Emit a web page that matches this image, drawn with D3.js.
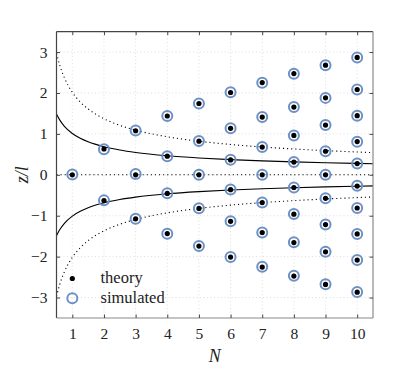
<!DOCTYPE html>
<html><head><meta charset="utf-8">
<script src="https://cdn.jsdelivr.net/npm/d3@7"></script>
<style>body{margin:0;background:#fff}svg{display:block}
svg text{font-family:"Liberation Serif","Times New Roman",serif !important}</style>
</head><body>
<div id="chart"></div>
<script>
// ion chain equilibrium positions (N ions)
const nValues = [1,2,3,4,5,6,7,8,9,10];
const theory = [
  [0],
  [-0.630, 0.630],
  [-1.077, 0, 1.077],
  [-1.437, -0.454, 0.454, 1.437],
  [-1.743, -0.822, 0, 0.822, 1.743],
  [-2.012, -1.136, -0.363, 0.363, 1.136, 2.012],
  [-2.255, -1.410, -0.678, 0, 0.678, 1.410, 2.255],
  [-2.475, -1.656, -0.962, -0.310, 0.310, 0.962, 1.656, 2.475],
  [-2.680, -1.882, -1.216, -0.576, 0, 0.576, 1.216, 1.882, 2.680],
  [-2.869, -2.085, -1.446, -0.811, -0.275, 0.275, 0.811, 1.446, 2.085, 2.869]
];
const simulated = [
  [0.005],
  [-0.625, 0.625],
  [-1.075, 0.02, 1.08],
  [-1.44, -0.45, 0.455, 1.435],
  [-1.74, -0.82, 0, 0.825, 1.745],
  [-2.01, -1.135, -0.36, 0.365, 1.14, 2.015],
  [-2.25, -1.41, -0.675, 0, 0.68, 1.41, 2.25],
  [-2.47, -1.65, -0.96, -0.31, 0.31, 0.96, 1.655, 2.47],
  [-2.675, -1.88, -1.215, -0.575, 0, 0.575, 1.215, 1.88, 2.68],
  [-2.865, -2.085, -1.445, -0.81, -0.27, 0.275, 0.81, 1.445, 2.085, 2.865]
];
// curve samples
const curveN      = [0.5, 0.6, 0.75, 1, 1.25, 1.5, 2, 2.5, 3, 4, 5, 6, 7, 8, 9, 10, 10.5];
const dottedCurve = [2.973, 2.685, 2.370, 2.018, 1.781, 1.609, 1.370, 1.209, 1.092, 0.930, 0.821, 0.741, 0.680, 0.631, 0.591, 0.557, 0.542];
const solidCurve  = [1.487, 1.343, 1.185, 1.009, 0.891, 0.805, 0.685, 0.605, 0.546, 0.465, 0.411, 0.371, 0.340, 0.316, 0.296, 0.279, 0.271];
const xTicks = [1,2,3,4,5,6,7,8,9,10];
const yTicks = [-3,-2,-1,0,1,2,3];
const legendLabels = ["theory", "simulated"];

const W = 415, H = 369;
const m = {left: 56.5, top: 31.6, right: 415 - 373, bottom: 369 - 318};
const svg = d3.select("#chart").append("svg").attr("width", W).attr("height", H);
const x = d3.scaleLinear().domain([0.5, 10.5]).range([m.left, W - m.right]);
const y = d3.scaleLinear().domain([-3.5, 3.5]).range([H - m.bottom, m.top]);
const font = "Liberation Serif";
const blue = "#6d91c6";

// grid
const g = svg.append("g");
g.selectAll("line.gx").data(xTicks).join("line")
  .attr("x1", d => x(d)).attr("x2", d => x(d)).attr("y1", y(3.5)).attr("y2", y(-3.5))
  .attr("stroke", "#d4d4d4").attr("stroke-width", 0.8).attr("stroke-dasharray", "1,2.5");
g.selectAll("line.gy").data(yTicks).join("line")
  .attr("y1", d => y(d)).attr("y2", d => y(d)).attr("x1", x(0.5)).attr("x2", x(10.5))
  .attr("stroke", "#d4d4d4").attr("stroke-width", 0.8).attr("stroke-dasharray", "1,2.5");

// curves
svg.append("clipPath").attr("id", "c").append("rect")
  .attr("x", x(0.5)).attr("y", y(3.5)).attr("width", x(10.5) - x(0.5)).attr("height", y(-3.5) - y(3.5));
const line = d3.line().x(d => x(d[0])).y(d => y(d[1])).curve(d3.curveMonotoneX);
const cg = svg.append("g").attr("clip-path", "url(#c)");
const mk = (arr, s) => curveN.map((n, i) => [n, s * arr[i]]);
[1, -1].forEach(s => {
  cg.append("path").attr("d", line(mk(dottedCurve, s))).attr("fill", "none")
    .attr("stroke", "#000").attr("stroke-width", 1.1).attr("stroke-dasharray", "1.1,3");
  cg.append("path").attr("d", line(mk(solidCurve, s))).attr("fill", "none")
    .attr("stroke", "#000").attr("stroke-width", 1.1);
});
cg.append("line").attr("x1", x(0.5)).attr("x2", x(10.5)).attr("y1", y(0)).attr("y2", y(0))
  .attr("stroke", "#000").attr("stroke-width", 1.1).attr("stroke-dasharray", "1.1,3");

// points
const simPts = [], thPts = [];
nValues.forEach((n, i) => {
  simulated[i].forEach(v => simPts.push([n, v]));
  theory[i].forEach(v => thPts.push([n, v]));
});
svg.append("g").selectAll("circle").data(simPts).join("circle")
  .attr("cx", d => x(d[0])).attr("cy", d => y(d[1])).attr("r", 5)
  .attr("fill", "none").attr("stroke", blue).attr("stroke-width", 2);
svg.append("g").selectAll("circle").data(thPts).join("circle")
  .attr("cx", d => x(d[0])).attr("cy", d => y(d[1])).attr("r", 2.6).attr("fill", "#000");

// axes box
const ax = svg.append("g");
ax.append("line").attr("x1", x(0.5)).attr("x2", x(10.5)).attr("y1", y(3.5)).attr("y2", y(3.5)).attr("stroke", "#444").attr("stroke-width", 1.2);
ax.append("line").attr("x1", x(0.5)).attr("x2", x(0.5)).attr("y1", y(3.5)).attr("y2", y(-3.5)).attr("stroke", "#444").attr("stroke-width", 1.2);
ax.append("line").attr("x1", x(0.5)).attr("x2", x(10.5)).attr("y1", y(-3.5)).attr("y2", y(-3.5)).attr("stroke", "#8a8a8a").attr("stroke-width", 1.2);
ax.append("line").attr("x1", x(10.5)).attr("x2", x(10.5)).attr("y1", y(3.5)).attr("y2", y(-3.5)).attr("stroke", "#8a8a8a").attr("stroke-width", 1.2);

const tl = 3.5;
const xb = svg.append("g").attr("transform", `translate(0,${y(-3.5)})`)
  .call(d3.axisBottom(x).tickValues(xTicks).tickSize(-tl).tickPadding(10).tickFormat(d3.format("d")));
const xt = svg.append("g").attr("transform", `translate(0,${y(3.5)})`)
  .call(d3.axisTop(x).tickValues(xTicks).tickSize(-tl).tickFormat(""));
const yl = svg.append("g").attr("transform", `translate(${x(0.5)},0)`)
  .call(d3.axisLeft(y).tickValues(yTicks).tickSize(-tl).tickPadding(9).tickFormat(d3.format("d")));
const yr = svg.append("g").attr("transform", `translate(${x(10.5)},0)`)
  .call(d3.axisRight(y).tickValues(yTicks).tickSize(-tl).tickFormat(""));
[xb, xt, yl, yr].forEach(a => {
  a.select(".domain").remove();
  a.attr("font-family", font).attr("font-size", 15.5);
  a.selectAll(".tick line").attr("stroke", "#444").attr("stroke-width", 1);
  a.selectAll(".tick text").attr("fill", "#222");
});

// axis labels
svg.append("text").attr("x", x(5.5)).attr("y", 362).attr("text-anchor", "middle")
  .attr("font-family", font).attr("font-style", "italic").attr("font-size", 18).attr("fill", "#222").text("N");
svg.append("text").attr("transform", `translate(28,${y(0)}) rotate(-90)`).attr("text-anchor", "middle")
  .attr("font-family", font).attr("font-style", "italic").attr("font-size", 18).attr("fill", "#222").text("z/l");

// legend
const lg = svg.append("g");
lg.append("circle").attr("cx", x(1)).attr("cy", 278.5).attr("r", 2.6).attr("fill", "#000");
lg.append("circle").attr("cx", x(1)).attr("cy", 298.3).attr("r", 5).attr("fill", "none").attr("stroke", blue).attr("stroke-width", 2);
lg.selectAll("text").data(legendLabels).join("text")
  .attr("x", 100.5).attr("y", (d, i) => 283 + i * 19.8)
  .attr("font-family", font).attr("font-size", 16.5).attr("fill", "#222").text(d => d);
</script>
</body></html>
